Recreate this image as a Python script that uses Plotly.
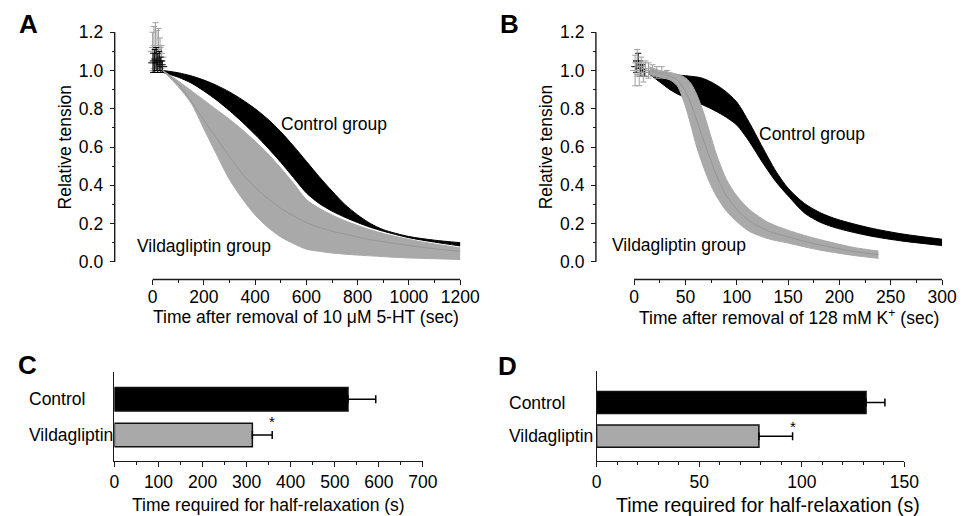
import plotly.graph_objects as go

# ---------------- data ----------------
# Panel A (10 uM 5-HT): band edges (mean +/- error)
A_t = [40, 100, 150, 200, 250, 300, 350, 400, 450, 500, 550, 600, 650, 700, 750, 800, 850, 900, 1000, 1100, 1200]
A_ctrl_upper = [1.0, 0.988, 0.972, 0.95, 0.922, 0.888, 0.847, 0.80, 0.745, 0.68, 0.605, 0.525, 0.445, 0.37, 0.30, 0.245, 0.20, 0.168, 0.132, 0.113, 0.10]
A_ctrl_lower = [0.99, 0.965, 0.935, 0.893, 0.845, 0.79, 0.73, 0.665, 0.595, 0.52, 0.44, 0.36, 0.305, 0.265, 0.233, 0.205, 0.18, 0.16, 0.126, 0.103, 0.083]
A_vild_upper = [1.0, 0.945, 0.895, 0.845, 0.795, 0.745, 0.69, 0.63, 0.565, 0.49, 0.41, 0.325, 0.28, 0.245, 0.215, 0.19, 0.167, 0.148, 0.117, 0.093, 0.073]
A_vild_lower = [1.0, 0.915, 0.83, 0.695, 0.56, 0.43, 0.33, 0.245, 0.18, 0.13, 0.095, 0.066, 0.055, 0.046, 0.04, 0.035, 0.031, 0.027, 0.02, 0.016, 0.012]
A_vild_mean = [1.0, 0.93, 0.84, 0.74, 0.645, 0.55, 0.46, 0.39, 0.33, 0.28, 0.24, 0.205, 0.18, 0.16, 0.145, 0.13, 0.115, 0.105, 0.085, 0.068, 0.055]
A_pts_t_ctrl = [2, 8, 14, 20, 26, 32, 38]
A_pts_ctrl = [1.04, 1.05, 1.06, 1.04, 1.05, 1.03, 1.02]
A_pts_ctrl_err = [0.05, 0.06, 0.06, 0.05, 0.05, 0.04, 0.03]
A_pts_t_vild = [0, 5, 11, 17, 23, 29, 35]
A_pts_vild = [1.1, 1.12, 1.13, 1.11, 1.12, 1.09, 1.07]
A_pts_vild_err = [0.1, 0.11, 0.12, 0.1, 0.1, 0.08, 0.06]

# Panel B (128 mM K+)
B_ctrl_t = [15, 25, 35, 45, 55, 65, 75, 87, 100, 112, 125, 138, 150, 166, 182, 198, 230, 262, 300]
B_ctrl_upper = [1.0, 0.99, 0.98, 0.975, 0.97, 0.962, 0.94, 0.9, 0.835, 0.73, 0.6, 0.475, 0.385, 0.305, 0.255, 0.222, 0.177, 0.145, 0.118]
B_ctrl_lower = [0.98, 0.94, 0.90, 0.87, 0.85, 0.825, 0.80, 0.765, 0.715, 0.63, 0.52, 0.42, 0.345, 0.255, 0.205, 0.175, 0.135, 0.108, 0.085]
B_vild_t = [15, 25, 35, 42, 49, 55, 61, 68, 74, 80, 90, 100, 112, 131, 150, 166, 182, 198, 214, 238]
B_vild_upper = [1.02, 1.0, 0.99, 0.98, 0.965, 0.935, 0.875, 0.775, 0.67, 0.565, 0.43, 0.345, 0.275, 0.205, 0.165, 0.138, 0.115, 0.094, 0.075, 0.056]
B_vild_lower = [0.98, 0.965, 0.95, 0.92, 0.83, 0.72, 0.6, 0.49, 0.41, 0.345, 0.265, 0.21, 0.16, 0.12, 0.098, 0.078, 0.06, 0.046, 0.033, 0.018]
B_vild_mean = [1.0, 0.985, 0.97, 0.95, 0.9, 0.83, 0.74, 0.63, 0.54, 0.455, 0.345, 0.275, 0.215, 0.16, 0.13, 0.107, 0.087, 0.07, 0.054, 0.037]
B_pts_t_vild = [1, 3, 5, 7, 9, 11, 14, 18, 22, 27, 32]
B_pts_vild = [1.0, 1.04, 0.98, 1.02, 0.99, 1.01, 1.0, 1.0, 0.99, 0.99, 0.98]
B_pts_vild_err = [0.08, 0.07, 0.06, 0.05, 0.05, 0.04, 0.04, 0.03, 0.03, 0.03, 0.02]
B_pts_t_ctrl = [2, 4, 6, 8, 10]
B_pts_ctrl = [1.02, 1.05, 1.0, 1.01, 0.99]
B_pts_ctrl_err = [0.03, 0.04, 0.03, 0.02, 0.02]

# Panels C and D (half-relaxation time)
groups = ["Control", "Vildagliptin"]
C_vals = [530, 313]
C_err = [63, 45]
D_vals = [131.3, 79.1]
D_err = [9.2, 16.4]

# tick labels
A_xticks = [0, 200, 400, 600, 800, 1000, 1200]
A_xminor = [100, 300, 500, 700, 900, 1100]
B_xticks = [0, 50, 100, 150, 200, 250, 300]
B_xminor = [25, 75, 125, 175, 225, 275]
AB_yticks = [0, 0.2, 0.4, 0.6, 0.8, 1.0, 1.2]
AB_yminor = [0.1, 0.3, 0.5, 0.7, 0.9, 1.1]
C_xticks = [0, 100, 200, 300, 400, 500, 600, 700]
C_xminor = [50, 150, 250, 350, 450, 550, 650]
D_xticks = [0, 50, 100, 150]
D_xminor = [10, 20, 30, 40, 60, 70, 80, 90, 110, 120, 130, 140]

# ---------------- styling / layout helpers ----------------
W, H = 973, 516
FONT = "Liberation Sans, Arial, sans-serif"
FS = 17.5
BLACK = "#000000"
GRAY = "#a9a9a9"
AXC = "#1a1a1a"


def fx(px):
    return px / W


def fy(py):
    return 1 - py / H


fig = go.Figure()
SPL = dict(shape="spline", smoothing=0.8)


def band(xa, ya, t, lo, hi, color):
    fig.add_trace(go.Scatter(x=t, y=lo, mode="lines", line=dict(color=color, width=1, **SPL),
                             xaxis=xa, yaxis=ya, showlegend=False, hoverinfo="skip"))
    fig.add_trace(go.Scatter(x=t, y=hi, mode="lines", line=dict(color=color, width=1, **SPL),
                             fill="tonexty", fillcolor=color, xaxis=xa, yaxis=ya, showlegend=False,
                             hoverinfo="skip"))


def pts(xa, ya, t, v, e, color):
    fig.add_trace(go.Scatter(x=t, y=v, mode="markers", marker=dict(symbol="line-ew", size=7,
                             line=dict(color=color, width=1)),
                             error_y=dict(type="data", array=e, color=color, thickness=1, width=3),
                             xaxis=xa, yaxis=ya, showlegend=False, hoverinfo="skip", cliponaxis=False))


# ---- Panel A ----
pts("x", "y", A_pts_t_vild, A_pts_vild, A_pts_vild_err, "#a0a0a0")
pts("x", "y", A_pts_t_ctrl, A_pts_ctrl, A_pts_ctrl_err, BLACK)
band("x", "y", A_t, A_ctrl_lower, A_ctrl_upper, BLACK)
band("x", "y", A_t, A_vild_lower, A_vild_upper, GRAY)
fig.add_trace(go.Scatter(x=A_t, y=A_vild_mean, mode="lines", line=dict(color="#969696", width=1, **SPL),
                         xaxis="x", yaxis="y", showlegend=False, hoverinfo="skip"))

# ---- Panel B ----
band("x2", "y2", B_ctrl_t, B_ctrl_lower, B_ctrl_upper, BLACK)
pts("x2", "y2", B_pts_t_ctrl, B_pts_ctrl, B_pts_ctrl_err, BLACK)
band("x2", "y2", B_vild_t, B_vild_lower, B_vild_upper, GRAY)
fig.add_trace(go.Scatter(x=B_vild_t, y=B_vild_mean, mode="lines", line=dict(color="#959595", width=1, **SPL),
                         xaxis="x2", yaxis="y2", showlegend=False, hoverinfo="skip"))
pts("x2", "y2", B_pts_t_vild, B_pts_vild, B_pts_vild_err, "#a0a0a0")

# ---- Panels C, D ----
for xa, ya, vals, errs in (("x3", "y3", C_vals, C_err), ("x4", "y4", D_vals, D_err)):
    fig.add_trace(go.Bar(y=groups, x=vals, orientation="h", width=0.66,
                         marker=dict(color=[BLACK, GRAY], line=dict(color="#111111", width=1.5)),
                         error_x=dict(type="data", symmetric=False, array=errs, arrayminus=[0, 0],
                                      color=BLACK, thickness=1.5, width=4),
                         xaxis=xa, yaxis=ya, showlegend=False, hoverinfo="skip"))

tickfont = dict(family=FONT, size=FS, color=BLACK)


def line_axis(ticks, minor, fmt=None):
    d = dict(showgrid=False, zeroline=False, showline=False, ticks="outside", ticklen=5, tickwidth=1.3,
             tickcolor=AXC, tickmode="array", tickvals=ticks, tickfont=tickfont,
             minor=dict(ticks="outside", ticklen=3, tickwidth=1.2, tickcolor=AXC, tickmode="array",
                        tickvals=minor))
    if fmt:
        d["tickformat"] = fmt
    return d


shapes = []
annotations = []


def offset_panel(xn, yn, x0px, x1px, xmax, yaxis_px, xaxis_py, xticks, xminor, extra_right):
    sx = (x1px - x0px) / xmax
    xlo = -(x0px - yaxis_px) / sx
    xhi = xmax + extra_right / sx
    y0px, y1px = 262.3, 32.3
    sy = (y0px - y1px) / 1.2
    ylo, yhi = -0.05, 1.27
    xd = dict(line_axis(xticks, xminor), range=[xlo, xhi], ticklabelstandoff=-3,
              domain=[fx(yaxis_px), fx(x1px + extra_right)], anchor="free", position=fy(xaxis_py))
    yd = dict(line_axis(AB_yticks, AB_yminor, ".1f"), range=[ylo, yhi], ticklabelstandoff=3,
              domain=[fy(y0px - ylo * sy), fy(y0px - yhi * sy)], anchor="free", position=fx(yaxis_px))
    xref = "x" if xn == "xaxis" else "x" + xn[5:]
    yref = "y" if yn == "yaxis" else "y" + yn[5:]
    shapes.append(dict(type="line", xref="paper", yref=yref, x0=fx(yaxis_px), x1=fx(yaxis_px), y0=0, y1=1.2,
                       line=dict(color=AXC, width=1.4)))
    shapes.append(dict(type="line", xref=xref, yref="paper", x0=0, x1=xmax, y0=fy(xaxis_py), y1=fy(xaxis_py),
                       line=dict(color=AXC, width=1.4)))
    return xd, yd


xA, yA = offset_panel("xaxis", "yaxis", 150.7, 464.7, 1200, 112, 280, A_xticks, A_xminor, 6)
xB, yB = offset_panel("xaxis2", "yaxis2", 642.3, 956.7, 300, 603.3, 280, B_xticks, B_xminor, 6)


def bar_axes(x0px, x1px, xmax, ytop_px, ybot_px, yrange, xticks, xminor, xanchor, yanchor):
    xd = dict(line_axis(xticks, xminor), range=[0, xmax], domain=[fx(x0px), fx(x1px)], anchor=yanchor,
              showline=True, linecolor=AXC, linewidth=1.4)
    yd = dict(showgrid=False, zeroline=False, showline=True, linecolor=AXC, linewidth=1.4, ticks="",
              showticklabels=False, type="category", categoryorder="array",
              categoryarray=["Vildagliptin", "Control"], range=yrange,
              domain=[fy(ybot_px), fy(ytop_px)], anchor=xanchor)
    return xd, yd


xC, yC = bar_axes(111.7, 426.7, 700, 373, 461.7, [-0.723, 1.754], C_xticks, C_xminor, "x3", "y3")
xD, yD = bar_axes(604, 918.3, 150, 371.7, 461.7, [-0.733, 1.938], D_xticks, D_xminor, "x4", "y4")


def txt(text, x, y, xref="paper", yref="paper", size=FS, xanchor="center", yanchor="middle", **kw):
    annotations.append(dict(text=text, x=x, y=y, xref=xref, yref=yref, showarrow=False, xanchor=xanchor,
                            yanchor=yanchor, font=dict(family=FONT, size=size, color=BLACK), **kw))


# panel letters
for letter, px, py in (("A", 24, 24), ("B", 515, 24), ("C", 23, 366), ("D", 513, 367)):
    txt("<b>%s</b>" % letter, fx(px), fy(py), size=26)

# axis titles
txt("Time after removal of 10 \u03bcM 5-HT (sec)", fx(307.7), fy(318))
txt("Relative tension", fx(61), fy(147), textangle=-90)
txt("Time after removal of 128 mM K<sup>+</sup> (sec)", fx(800), fy(318))
txt("Relative tension", fx(552), fy(147), textangle=-90)
txt("Time required for half-relaxation (s)", fx(269), fy(506))
txt("Time required for half-relaxation (s)", fx(779), fy(506), size=19.5)

# curve labels
txt("Control group", 494, 0.72, xref="x", yref="y", xanchor="left")
txt("Vildagliptin group", -68, 0.08, xref="x", yref="y", xanchor="left")
txt("Control group", 120, 0.669, xref="x2", yref="y2", xanchor="left")
txt("Vildagliptin group", -23, 0.09, xref="x2", yref="y2", xanchor="left")

# category labels (left aligned)
for g in groups:
    txt(g, fx(22), g, yref="y3", xanchor="left")
    txt(g, fx(513), g, yref="y4", xanchor="left")

# significance marks
txt("*", C_vals[1] + C_err[1], "Vildagliptin", xref="x3", yref="y3", size=15, yshift=13)
txt("*", D_vals[1] + D_err[1], "Vildagliptin", xref="x4", yref="y4", size=15, yshift=10)

fig.update_layout(
    width=W, height=H, margin=dict(l=0, r=0, t=0, b=0), paper_bgcolor="white", plot_bgcolor="rgba(0,0,0,0)",
    xaxis=xA, yaxis=yA, xaxis2=xB, yaxis2=yB, xaxis3=xC, yaxis3=yC, xaxis4=xD, yaxis4=yD,
    shapes=shapes, annotations=annotations, font=dict(family=FONT, size=FS, color=BLACK), bargap=0.3,
)

fig.write_html("out.html", config={"displayModeBar": False},
               post_script="document.body.style.margin='0px';document.body.style.overflow='hidden';")
